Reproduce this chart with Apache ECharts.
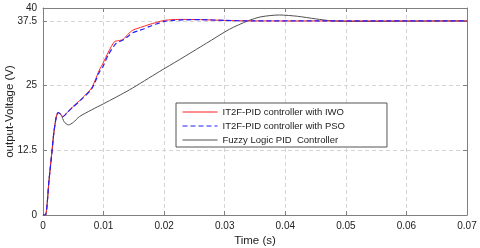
<!DOCTYPE html>
<html>
<head>
<meta charset="utf-8">
<script src="https://cdn.jsdelivr.net/npm/echarts@6/dist/echarts.min.js"></script>
<style>html,body{margin:0;padding:0;background:#fff}#c{width:480px;height:248px}</style>
</head>
<body>
<div id="c"></div>
<script>
var seriesNames = ['IT2F-PID controller with IWO', 'IT2F-PID controller with PSO', 'Fuzzy Logic PID  Controller'];
var xTickLabels = ['0', '0.01', '0.02', '0.03', '0.04', '0.05', '0.06', '0.07'];
var yTickValues = [0, 12.5, 25, 37.5, 40];
var yTickLabels = ['0', '12.5', '25', '37.5', '40'];

var tIWO = [0, 0.0004, 0.0010, 0.0015, 0.0018, 0.0022, 0.0025, 0.0029, 0.0033, 0.0040, 0.0049, 0.0065, 0.0080, 0.0086, 0.0093, 0.0099, 0.0108, 0.0118, 0.0125, 0.0132, 0.0140, 0.0148, 0.0157, 0.0165, 0.0175, 0.0187, 0.0200, 0.0215, 0.0230, 0.0260, 0.0300, 0.0350, 0.0450, 0.0550, 0.0700];
var vIWO = [0, 0, 6.8, 12.5, 16.0, 19.0, 19.8, 19.5, 19.0, 19.8, 20.9, 22.6, 24.5, 26.0, 28.0, 29.3, 31.5, 33.5, 33.7, 33.9, 34.9, 35.7, 36.1, 36.4, 36.8, 37.2, 37.6, 37.75, 37.8, 37.75, 37.6, 37.5, 37.5, 37.5, 37.5];

var tPSO = [0, 0.0004, 0.0010, 0.0015, 0.0018, 0.0022, 0.0025, 0.0029, 0.0033, 0.0040, 0.0049, 0.0065, 0.0080, 0.0086, 0.0093, 0.0099, 0.0108, 0.0121, 0.0132, 0.0140, 0.0148, 0.0157, 0.0165, 0.0175, 0.0187, 0.0200, 0.0215, 0.0230, 0.0260, 0.0300, 0.0350, 0.0450, 0.0550, 0.0700];
var vPSO = [0, 0, 6.8, 12.5, 16.0, 19.0, 19.8, 19.5, 19.0, 19.8, 20.8, 22.5, 24.3, 25.7, 27.6, 28.7, 31.0, 33.2, 33.8, 34.5, 35.2, 35.6, 35.9, 36.4, 36.9, 37.4, 37.6, 37.7, 37.75, 37.6, 37.5, 37.5, 37.5, 37.5];

var tFuzzy = [0, 0.0004, 0.0010, 0.0015, 0.0018, 0.0022, 0.0025, 0.0030, 0.0035, 0.0042, 0.0050, 0.0060, 0.0080, 0.0100, 0.0143, 0.0192, 0.0225, 0.0270, 0.0308, 0.0338, 0.0360, 0.0390, 0.0420, 0.0450, 0.0478, 0.0520, 0.0600, 0.0700];
var vFuzzy = [0, 0, 6.8, 12.5, 16.0, 19.0, 19.8, 19.3, 18.0, 17.4, 17.9, 19.0, 20.3, 21.5, 24.2, 27.7, 30.0, 33.2, 35.9, 37.5, 38.3, 38.65, 38.4, 37.9, 37.5, 37.4, 37.45, 37.5];

function zip(t, v) { return t.map(function (x, i) { return [x, v[i]]; }); }

var font = '"Liberation Sans", Arial, sans-serif';
var gridCol = '#d4d4d4';
var axisCol = '#7f7f7f';

var chart = echarts.init(document.getElementById('c'), null, { renderer: 'canvas' });
chart.setOption({
  animation: false,
  backgroundColor: '#fff',
  grid: { left: 43, right: 13, top: 8, bottom: 33, containLabel: false, outerBoundsMode: 'none' },
  xAxis: [{
    type: 'value', min: 0, max: 0.07, interval: 0.01, position: 'bottom',
    name: 'Time (s)', nameLocation: 'middle', nameGap: 20, nameMoveOverlap: false,
    nameTextStyle: { fontFamily: font, fontSize: 11.5, color: '#222' },
    axisLine: { show: true, onZero: false, lineStyle: { color: axisCol, width: 1 } },
    axisTick: { show: true, inside: true, length: 4, lineStyle: { color: axisCol } },
    axisLabel: { fontFamily: font, fontSize: 10, color: '#222', margin: 6,
      formatter: function (v) { return xTickLabels[Math.round(v / 0.01)]; } },
    splitLine: { show: true, lineStyle: { color: gridCol, type: [4, 3], width: 1 } }
  }, {
    type: 'value', min: 0, max: 0.07, interval: 0.01, position: 'top',
    axisLine: { show: true, onZero: false, lineStyle: { color: axisCol, width: 1 } },
    axisTick: { show: true, inside: true, length: 4, lineStyle: { color: axisCol } },
    axisLabel: { show: false }, splitLine: { show: false }
  }],
  yAxis: [{
    type: 'value', min: 0, max: 40, interval: 12.5, position: 'left',
    name: 'output-Voltage (V)', nameLocation: 'middle', nameGap: 27, nameMoveOverlap: false,
    nameTextStyle: { fontFamily: font, fontSize: 11.5, color: '#222' },
    axisLine: { show: true, onZero: false, lineStyle: { color: axisCol, width: 1 } },
    axisTick: { show: true, inside: true, length: 4, lineStyle: { color: axisCol } },
    axisLabel: { fontFamily: font, fontSize: 10, color: '#222', margin: 6,
      formatter: function (v) {
        var idx = yTickValues.indexOf(v);
        return idx >= 0 ? yTickLabels[idx] : '';
      } },
    splitLine: { show: true, lineStyle: { color: gridCol, type: [4, 3], width: 1 } }
  }, {
    type: 'value', min: 0, max: 40, interval: 12.5, position: 'right',
    axisLine: { show: true, onZero: false, lineStyle: { color: axisCol, width: 1 } },
    axisTick: { show: true, inside: true, length: 4, lineStyle: { color: axisCol } },
    axisLabel: { show: false }, splitLine: { show: false }
  }],
  legend: {
    show: true,
    orient: 'vertical', left: 176, top: 103,
    itemWidth: 35, itemHeight: 11, itemGap: 4,
    padding: [4, 42, 2, 6],
    itemStyle: { opacity: 0, borderWidth: 0 },
    lineStyle: { width: 1 },
    backgroundColor: '#fff', borderColor: '#555', borderWidth: 1,
    textStyle: { fontFamily: font, fontSize: 9.5, color: '#222' },
    data: seriesNames.slice()
  },
  series: [{
    name: seriesNames[0], type: 'line', showSymbol: false, symbol: 'none', smooth: 0.25,
    data: zip(tIWO, vIWO), lineStyle: { color: '#ff2020', width: 1 }, itemStyle: { color: '#ff2020' }, z: 3
  }, {
    name: seriesNames[1], type: 'line', showSymbol: false, symbol: 'none', smooth: 0.25,
    data: zip(tPSO, vPSO), lineStyle: { color: '#2020ff', width: 1.2, type: [5, 3] }, itemStyle: { color: '#2020ff' }, z: 4
  }, {
    name: seriesNames[2], type: 'line', showSymbol: false, symbol: 'none', smooth: 0.25,
    data: zip(tFuzzy, vFuzzy), lineStyle: { color: '#505050', width: 1 }, itemStyle: { color: '#505050' }, z: 2
  }]
});
</script>
</body>
</html>
